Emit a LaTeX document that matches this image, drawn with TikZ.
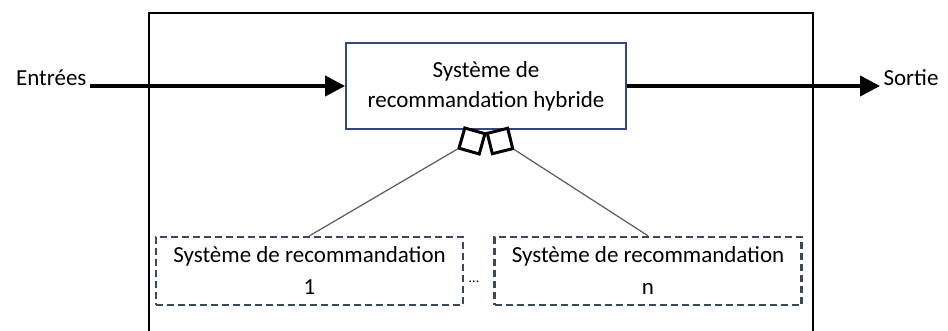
\documentclass[tikz,border=0pt]{standalone}
\usepackage{fontspec}
\setmainfont{Carlito}
\usetikzlibrary{arrows.meta}
\definecolor{c1}{HTML}{34497A}
\definecolor{c2}{HTML}{3A4857}
\definecolor{c3}{HTML}{5A5A5A}

\begin{document}
\begin{tikzpicture}[x=1pt, y=-1pt, font=\fontsize{23}{30}\selectfont,
		frame/.style={line width=2.8pt},
		flow/.style={line width=4pt, -{Triangle[length=20pt, width=20pt]}},
		hybbox/.style={draw=c1, line width=1.8pt, fill=white, minimum width=280pt, minimum height=86pt, align=center},
		subbox/.style={draw=c2, line width=2.4pt, dash pattern=on 7pt off 4pt, minimum width=307pt, minimum height=68pt, align=center, font=\fontsize{23}{32}\selectfont},
		agg/.style={draw=black, fill=white, line width=3pt, minimum size=21pt, inner sep=0pt},
		link/.style={draw=c3, line width=1.2pt}]
	\useasboundingbox (0, 0) rectangle (948, 331);

	\draw[frame] (149, 331) -- (149, 13) -- (813, 13) -- (813, 331);

	\node[hybbox] (hyb) at (486, 86) {Système de\\recommandation hybride};
	\node[anchor=base east] (in) at (90, 86) {Entrées};
	\node[anchor=base west] (out) at (880, 86) {Sortie};

	\node[subbox] (sys1) at (309.5, 271) {Système de recommandation\\1};
	\node[subbox] (sys2) at (648, 271) {Système de recommandation\\n};
	\node[anchor=base, font=\fontsize{14}{16}\selectfont] (dots) at (474, 283) {...};

	\node[agg, rotate=-16] (agg1) at (472, 141) {};
	\node[agg, rotate=14] (agg2) at (500, 141) {};
	\draw[link] (agg1.south west) -- (sys1.north);
	\draw[link] (agg2.south east) -- (sys2.north);

	\draw[flow] (in.base east) -- (hyb.west);
	\draw[flow] (hyb.east) -- (out.base west);
\end{tikzpicture}
\end{document}
